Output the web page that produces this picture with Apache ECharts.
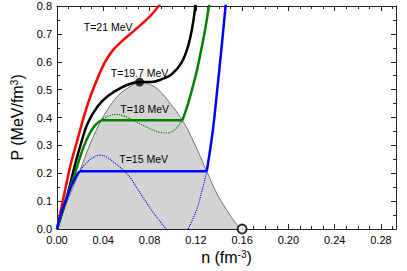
<!DOCTYPE html>
<html><head><meta charset="utf-8">
<script src="https://cdn.jsdelivr.net/npm/echarts@6/dist/echarts.min.js"></script>
<style>html,body{margin:0;padding:0;background:#fff}#c{width:407px;height:271px}</style>
</head><body><div id="c"></div>
<script>
// ---- data (n in fm^-3, P in MeV/fm^3) ----
const xTicks = [0, 0.04, 0.08, 0.12, 0.16, 0.20, 0.24, 0.28];
const yTicks = [0, 0.1, 0.2, 0.3, 0.4, 0.5, 0.6, 0.7, 0.8];
const coexistence = [[0,0],[0.0094,0.105],[0.0195,0.207],[0.029,0.309],[0.0382,0.39],[0.0455,0.44],[0.054,0.483],[0.063,0.51],[0.0714,0.525],[0.080,0.519],[0.0887,0.495],[0.0974,0.453],[0.1084,0.39],[0.119,0.305],[0.1294,0.207],[0.138,0.129],[0.1467,0.068],[0.155,0.018],[0.16,0]];
const t21 = [[0,0],[0.004,0.08],[0.008,0.16],[0.012,0.235],[0.017,0.31],[0.022,0.385],[0.0267,0.45],[0.033,0.52],[0.0411,0.596],[0.048,0.64],[0.0556,0.672],[0.0657,0.708],[0.0729,0.734],[0.079,0.757],[0.0844,0.782],[0.0902,0.812]];
const t197 = [[0,0],[0.0094,0.129],[0.0152,0.225],[0.0209,0.309],[0.0267,0.381],[0.0354,0.441],[0.044,0.477],[0.0556,0.507],[0.0642,0.522],[0.0714,0.527],[0.0815,0.527],[0.0902,0.537],[0.0989,0.554],[0.1075,0.596],[0.1133,0.656],[0.1176,0.740],[0.1196,0.800],[0.121,0.84]];
const t18Left = [[0,0],[0.0094,0.125],[0.0152,0.195],[0.0209,0.27],[0.0267,0.33],[0.0325,0.37],[0.0382,0.39]];
const t18Plateau = [[0.0382,0.39],[0.1084,0.39]];
const t18Right = [[0.1084,0.39],[0.1133,0.45],[0.1173,0.51],[0.121,0.57],[0.1245,0.64],[0.128,0.715],[0.1312,0.796],[0.1328,0.84]];
const t18Loop = [[0.0382,0.39],[0.0445,0.405],[0.051,0.411],[0.058,0.405],[0.066,0.39],[0.0743,0.372],[0.083,0.355],[0.09,0.346],[0.096,0.345],[0.102,0.357],[0.1084,0.39]];
const t15Left = [[0,0],[0.0036,0.057],[0.0079,0.105],[0.0123,0.153],[0.0166,0.189],[0.0195,0.207]];
const t15Plateau = [[0.0195,0.207],[0.1294,0.207]];
const t15Right = [[0.1294,0.207],[0.1322,0.28],[0.1349,0.36],[0.1375,0.46],[0.140,0.56],[0.1428,0.675],[0.1456,0.796],[0.1465,0.84]];
const t15Loop = [[0.0195,0.207],[0.0267,0.243],[0.032,0.258],[0.0368,0.265],[0.042,0.26],[0.0498,0.237],[0.0584,0.207],[0.064,0.18],[0.070,0.141],[0.0815,0.069],[0.090,0.022],[0.0945,0],[0.1,-0.03],[0.106,-0.04],[0.11,-0.02],[0.1133,0],[0.1205,0.068],[0.1248,0.129],[0.1294,0.207]];
const criticalPoint = [[0.0714,0.527]];
const saturationPoint = [[0.16,0]];
const curveLabels = [
  {name:'T=21 MeV', value:[0.0442,0.726]},
  {name:'T=19.7 MeV', value:[0.0714,0.561]},
  {name:'T=18 MeV', value:[0.0758,0.431]},
  {name:'T=15 MeV', value:[0.0749,0.252]}
];
const xMax = 0.293, yMax = 0.8;

const FONT = 'Liberation Sans, Arial, sans-serif';
const chart = echarts.init(document.getElementById('c'), null, {renderer:'svg'});
const lineCol = '#222';
function xAx(pos, interval, len, withLine, withLabel, extra) {
  return Object.assign({
    type:'value', position:pos, min:0, max:xMax, interval:interval,
    axisLine:{show:withLine, onZero:false, lineStyle:{color:lineCol, width:1}},
    axisTick:{show:true, inside:true, length:len, lineStyle:{color:lineCol, width:1}},
    axisLabel:{show:withLabel, showMaxLabel:false, margin:5, fontSize:11, color:'#000', fontFamily:FONT,
      formatter: v => xTicks.some(t => Math.abs(t - v) < 1e-9) ? v.toFixed(2) : ''},
    splitLine:{show:false}
  }, extra || {});
}
function yAx(pos, withLabel, extra) {
  return Object.assign({
    type:'value', position:pos, min:0, max:yMax, interval:0.1,
    axisLine:{show:true, onZero:false, lineStyle:{color:lineCol, width:1}},
    axisTick:{show:true, inside:true, length:5, lineStyle:{color:lineCol, width:1}},
    minorTick:{show:true, splitNumber:2, length:3, lineStyle:{color:lineCol, width:1}},
    axisLabel:{show:withLabel, margin:5, fontSize:11, color:'#000', fontFamily:FONT,
      formatter: v => yTicks.some(t => Math.abs(t - v) < 1e-9) ? v.toFixed(1) : ''},
    splitLine:{show:false}
  }, extra || {});
}
function line(data, color, width, type, extra) {
  return Object.assign({type:'line', data:data, symbol:'none', showSymbol:false, smooth:0.4,
    lineStyle:{color:color, width:width, type:type}, itemStyle:{color:color}, silent:true, animation:false, z:3}, extra || {});
}
chart.setOption({
  animation:false,
  grid:{left:57, right:11, top:6, bottom:42},
  xAxis:[
    xAx('bottom', 0.04, 5, true, true, {name:'n (fm{sup|-3})', nameLocation:'middle', nameGap:17,
      nameTextStyle:{fontSize:16, color:'#000', fontFamily:FONT, rich:{sup:{fontSize:10, verticalAlign:'top', fontFamily:FONT, color:'#000'}}}}),
    xAx('bottom', 0.01, 3, false, false),
    xAx('top', 0.04, 5, true, false),
    xAx('top', 0.01, 3, false, false)
  ],
  yAxis:[
    yAx('left', true, {name:'P (MeV/fm{sup|3})', nameLocation:'middle', nameGap:28, nameRotate:90,
      nameTextStyle:{fontSize:16, color:'#000', fontFamily:FONT, rich:{sup:{fontSize:10, verticalAlign:'top', fontFamily:FONT, color:'#000'}}}}),
    yAx('right', false)
  ],
  series:[
    line(coexistence, '#555', 0.8, 'solid', {areaStyle:{color:'#d3d3d3', opacity:1}, z:1}),
    line(t18Loop, '#008000', 1.2, 'dotted', {z:2}),
    line(t15Loop, '#0000ff', 1.1, 'dotted', {z:2}),
    line(t21, '#ff0000', 2.5, 'solid'),
    line(t197, '#000000', 2.5, 'solid'),
    line(t18Left, '#008000', 2.5, 'solid'),
    line(t18Plateau, '#008000', 2.5, 'solid', {smooth:false}),
    line(t18Right, '#008000', 2.5, 'solid'),
    line(t15Left, '#0000ff', 2.5, 'solid'),
    line(t15Plateau, '#0000ff', 2.5, 'solid', {smooth:false}),
    line(t15Right, '#0000ff', 2.5, 'solid'),
    {type:'scatter', data:criticalPoint, symbol:'circle', symbolSize:9, itemStyle:{color:'#000'}, z:5, clip:false, silent:true},
    {type:'scatter', data:saturationPoint, symbol:'emptyCircle', symbolSize:9, itemStyle:{color:'#000', borderColor:'#000', borderWidth:1.5}, z:5, clip:false, silent:true},
    {type:'scatter', data:curveLabels, symbolSize:0, z:6, silent:true, itemStyle:{color:'#000'},
      label:{show:true, position:[0,0], align:'center', verticalAlign:'middle', formatter:p => p.name, opacity:1,
        fontSize:10.5, color:'#000000', fontFamily:FONT, fontWeight:'normal', textBorderWidth:0}}
  ]
});
</script></body></html>
